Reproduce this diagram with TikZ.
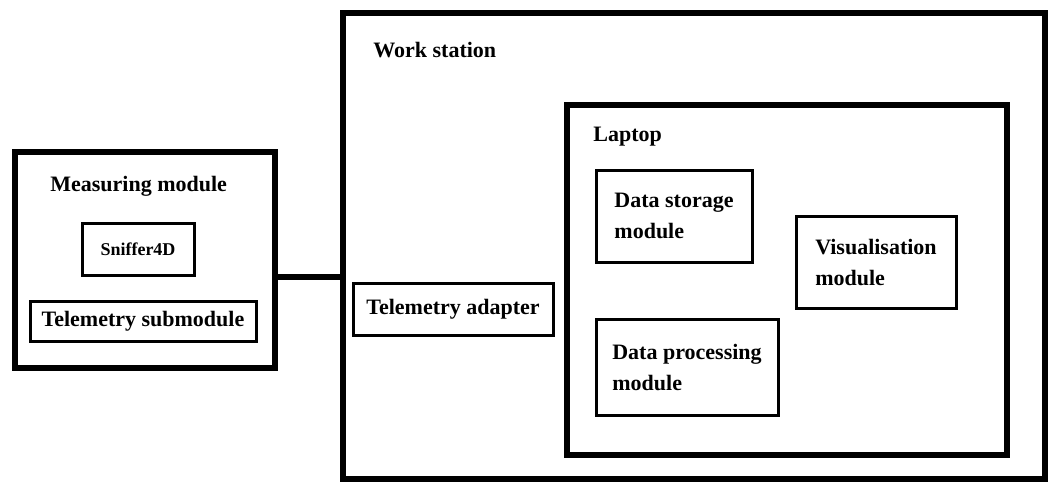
\documentclass[tikz,border=0pt]{standalone}
\usepackage{fontspec}
\setmainfont{Liberation Serif}
\usepackage{tikz}
\usetikzlibrary{positioning}
\tikzstyle{block} = [draw, rectangle, line width=1.5pt, inner sep=2pt, align=left, font=\fontsize{11}{15.5}\selectfont\bfseries]
\tikzstyle{frame} = [draw, rectangle, line width=2.6pt, inner sep=0pt]
\tikzstyle{title} = [anchor=west, inner sep=0pt, font=\fontsize{11}{15.5}\selectfont\bfseries]
\tikzstyle{link} = [line width=2.6pt]

\begin{document}
\begin{tikzpicture}[x=0.5pt, y=-0.5pt]
    \useasboundingbox (0,0) rectangle (1049,482);

    % Frames.
    \node (meas) [frame, minimum width=130pt, minimum height=108pt] at (145,260) {};
    \node (work) [frame, minimum width=351pt, minimum height=233pt] at (694,246) {};
    \node (laptop) [frame, minimum width=220pt, minimum height=175pt] at (787,280) {};

    \node (meastitle) [title] at (50,186) {Measuring module};
    \node (worktitle) [title] at (373,50) {Work station};
    \node (laptoptitle) [title] at (593,137) {Laptop};

    % Modules.
    \node (sniffer) [block, font=\fontsize{9}{11}\selectfont\bfseries, minimum width=56pt, minimum height=26pt] at (138,249) {Sniffer4D};
    \node (telesub) [block, minimum width=113pt, minimum height=20pt] at (143,321) {Telemetry submodule};
    \node (adapter) [block, minimum width=100pt, minimum height=26pt] at (453,309) {Telemetry adapter};
    \node (storage) [block, minimum width=78pt, minimum height=46pt] at (674,216) {Data storage\\module};
    \node (visual) [block, minimum width=80pt, minimum height=46pt] at (876,262) {Visualisation\\module};
    \node (proc) [block, minimum width=91pt, minimum height=48pt] at (687,367) {Data processing\\module};

    % Link.
    \coordinate (wire) at (meas.east |- 0,277);
    \draw [link] (wire) -- (wire -| work.west);
\end{tikzpicture}
\end{document}
